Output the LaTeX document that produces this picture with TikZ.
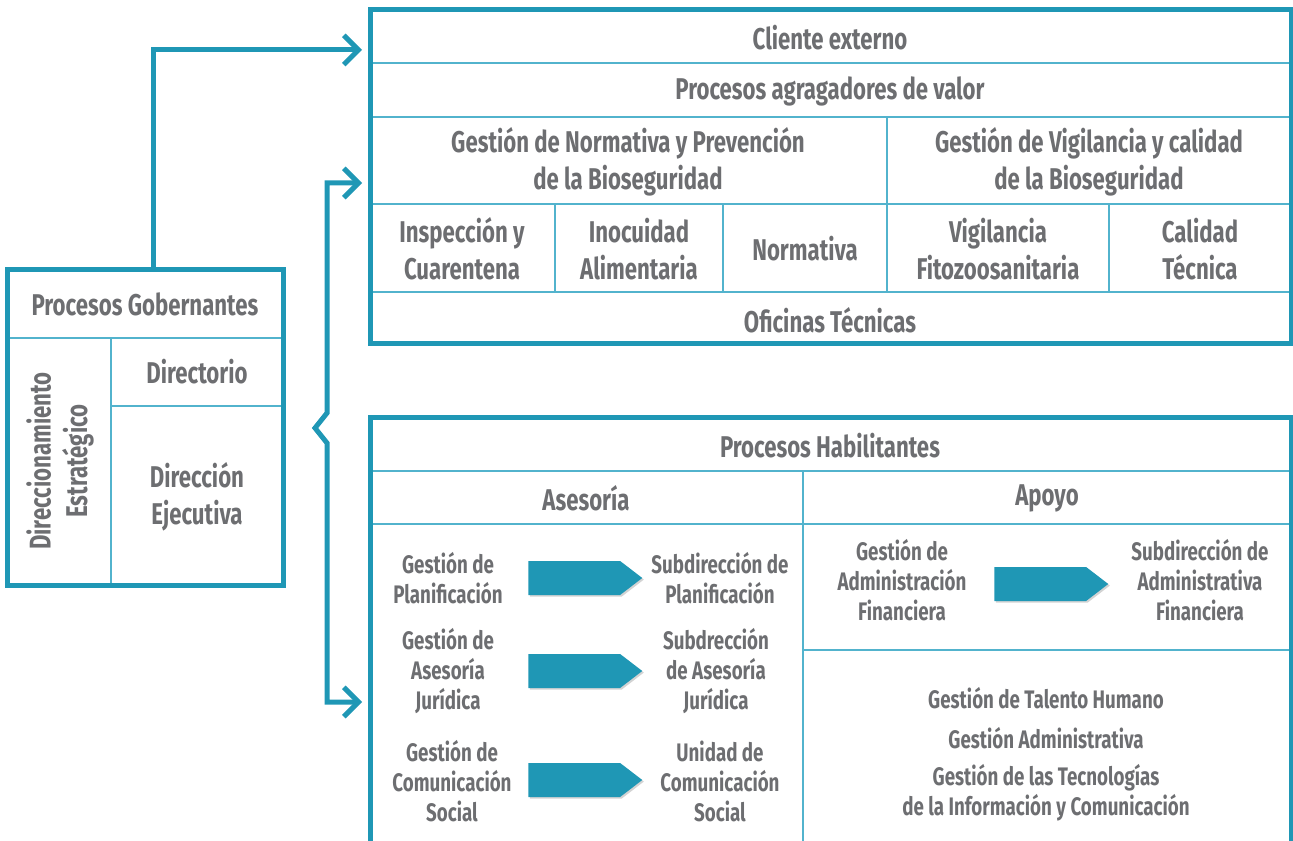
\documentclass[tikz,border=0pt]{standalone}
\usepackage{fontspec}
\newfontfamily\dinfont{Fira Sans}[FakeStretch=0.74]
\usetikzlibrary{%
  arrows.meta,
  shapes.symbols,
  shadows
}

\definecolor{azul}{HTML}{1F97B5}
\definecolor{azulclaro}{HTML}{52B3CD}
\definecolor{gris}{HTML}{6D6E71}

\tikzset{
  marco/.style={draw=azul, line width=3.75pt},
  linea/.style={draw=azulclaro, line width=1.5pt},
  titulo/.style={text=gris, align=center, inner sep=0pt,
    font=\dinfont\bfseries\fontsize{22.5}{27.5}\selectfont},
  texto/.style={text=gris, align=center, inner sep=0pt,
    font=\dinfont\bfseries\fontsize{19}{22.5}\selectfont},
  conector/.style={draw=azul, line width=3.75pt,
    arrows={-Straight Barb[length=11pt, width=22pt]}},
  flecha/.style={signal, signal to=east, signal pointer angle=75,
    fill=azul, inner sep=0pt, minimum width=85.5pt, minimum height=25.5pt,
    anchor=west,
    drop shadow={shadow xshift=1.2pt, shadow yshift=-1.2pt, opacity=0.35}}
}

\begin{document}
\begin{tikzpicture}[x=0.75pt, y=-0.75pt]

  \useasboundingbox (0,0) rectangle (1293,841);

  % procesos gobernantes
  \draw[linea] (7,338) -- (283,338);
  \draw[linea] (111,338) -- (111,585);
  \draw[linea] (111,406) -- (283,406);
  \draw[marco] (7,270) rectangle (283,585);
  \node[titulo] (gob) at (145,304) {Procesos Gobernantes};
  \node[titulo, rotate=90] (direcc) at (60,461) {Direccionamiento\\Estratégico};
  \node[titulo] (directorio) at (197,372) {Directorio};
  \node[titulo] (ejecutiva) at (197,497) {Dirección\\Ejecutiva};

  % procesos agregadores de valor
  \draw[linea] (370,63) -- (1291,63);
  \draw[linea] (370,117) -- (1291,117);
  \draw[linea] (370,204) -- (1291,204);
  \draw[linea] (370,292) -- (1291,292);
  \draw[linea] (887,117) -- (887,292);
  \draw[linea] (555,204) -- (555,292);
  \draw[linea] (723,204) -- (723,292);
  \draw[linea] (1109,204) -- (1109,292);
  \draw[marco] (370,10) rectangle (1291,344);
  \node[titulo] (cliente) at (830,38) {Cliente externo};
  \node[titulo] (agregadores) at (830,91) {Procesos agragadores de valor};
  \node[titulo] (normprev) at (628,162) {Gestión de Normativa y Prevención\\de la Bioseguridad};
  \node[titulo] (vigcal) at (1089,162) {Gestión de Vigilancia y calidad\\de la Bioseguridad};
  \node[titulo] (inspeccion) at (462,249) {Inspección y\\Cuarentena};
  \node[titulo] (inocuidad) at (639,249) {Inocuidad\\Alimentaria};
  \node[titulo] (normativa) at (805,249) {Normativa};
  \node[titulo] (vigilancia) at (998,249) {Vigilancia\\Fitozoosanitaria};
  \node[titulo] (calidad) at (1200,249) {Calidad\\Técnica};
  \node[titulo] (oficinas) at (830,320) {Oficinas Técnicas};

  % procesos habilitantes
  \draw[linea] (370,471) -- (1291,471);
  \draw[linea] (370,524) -- (1291,524);
  \draw[linea] (803,471) -- (803,845);
  \draw[linea] (803,650) -- (1291,650);
  \draw[marco] (370,845) |- (1291,418) -- (1291,845);
  \node[titulo] (habilitantes) at (830,446) {Procesos Habilitantes};
  \node[titulo] (asesoria) at (586,498) {Asesoría};
  \node[titulo] (apoyo) at (1047,498) {Apoyo};

  % asesoria
  \node[texto] (gplan) at (448,578) {Gestión de\\Planificación};
  \node[flecha] (fplan) at (528,578) {};
  \node[texto] (splan) at (720,578) {Subdirección de\\Planificación};
  \node[texto] (gjur) at (448,671) {Gestión de\\Asesoría\\Jurídica};
  \node[flecha] (fjur) at (528,671) {};
  \node[texto] (sjur) at (716,671) {Subdrección\\de Asesoría\\Jurídica};
  \node[texto] (gcom) at (452,781) {Gestión de\\Comunicación\\Social};
  \node[flecha] (fcom) at (528,780) {};
  \node[texto] (ucom) at (720,781) {Unidad de\\Comunicación\\Social};

  % apoyo
  \node[texto] (gadm) at (902,580) {Gestión de\\Administración\\Financiera};
  \node[flecha] (fadm) at (994,584) {};
  \node[texto] (sadm) at (1200,580) {Subdirección de\\Administrativa\\Financiera};
  \node[texto] (talento) at (1046,698) {Gestión de Talento Humano};
  \node[texto] (gadmin) at (1046,738) {Gestión Administrativa};
  \node[texto] (tic) at (1046,793) {Gestión de las Tecnologías\\de la Información y Comunicación};

  % conectores
  \coordinate (entcliente) at (362,50);
  \coordinate (entvalor) at (362,183);
  \coordinate (enthab) at (362,702);
  \coordinate (pico) at (315,428);
  \draw[conector] (153,268) |- (entcliente);
  \draw[conector, arrows={Straight Barb[length=11pt, width=22pt]-Straight Barb[length=11pt, width=22pt]}]
    (entvalor) -| (327,413) -- (pico) -- (327,443) |- (enthab);

\end{tikzpicture}
\end{document}
